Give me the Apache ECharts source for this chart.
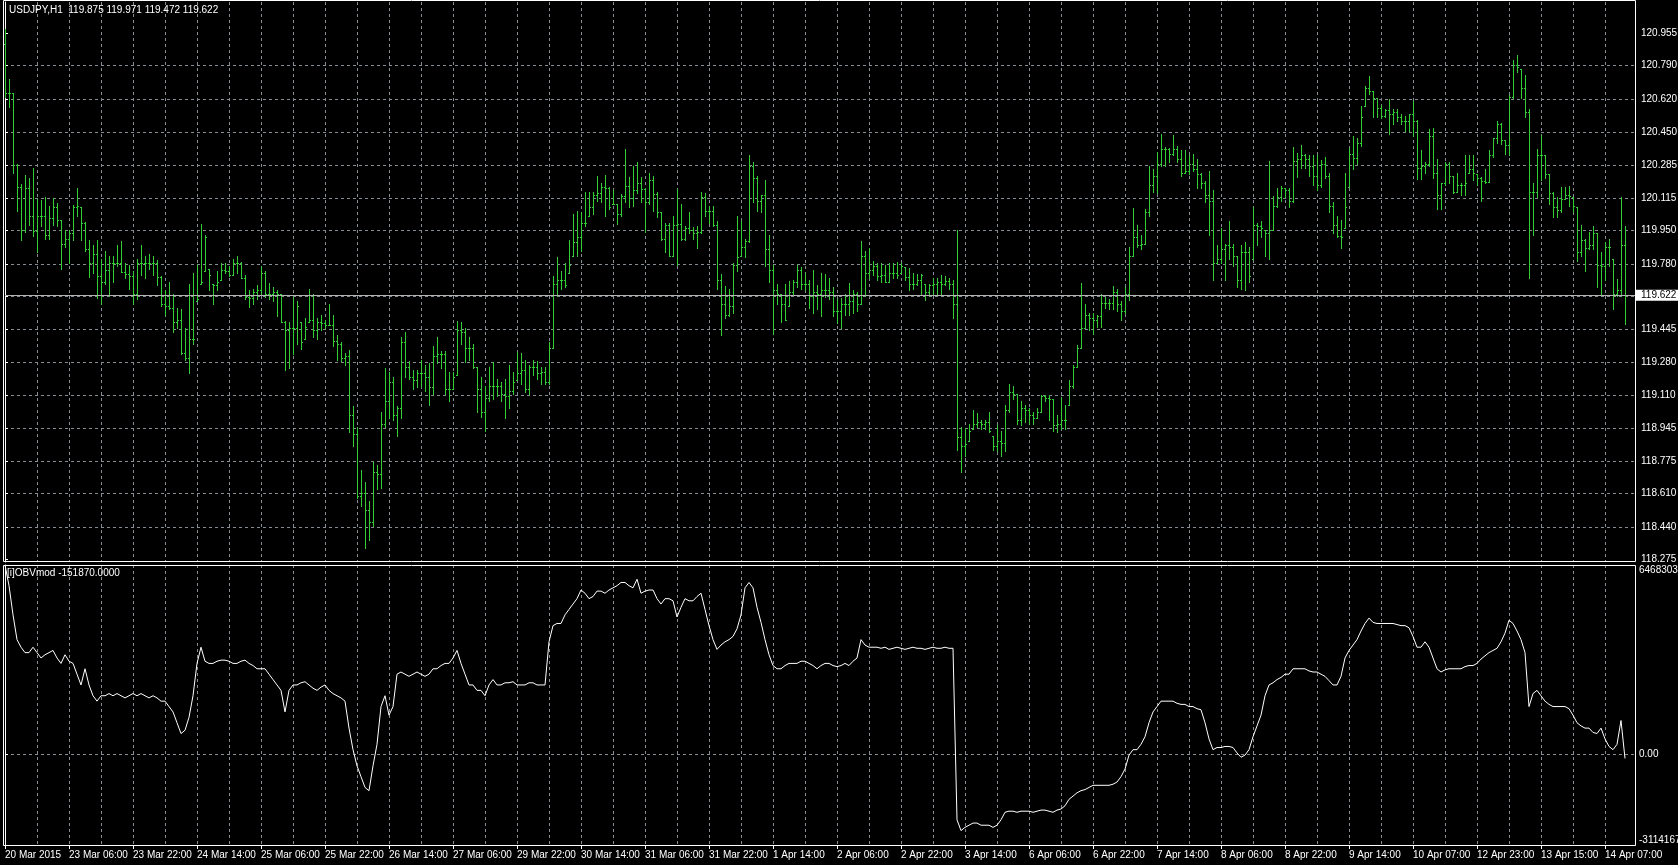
<!DOCTYPE html>
<html><head><meta charset="utf-8">
<script src="https://cdn.jsdelivr.net/npm/echarts@6/dist/echarts.min.js"></script>
<style>html,body{margin:0;padding:0;background:#000;overflow:hidden}#chart{width:1678px;height:865px}</style>
</head><body><div id="chart"></div>
<script>
const symbolTitle = 'USDJPY,H1  119.875 119.971 119.472 119.622';
const indicatorTitle = '[i]OBVmod -151870.0000';
const lastPrice = 119.622;
const timeLabels = ['20 Mar 2015','23 Mar 06:00','23 Mar 22:00','24 Mar 14:00','25 Mar 06:00','25 Mar 22:00','26 Mar 14:00','27 Mar 06:00','29 Mar 22:00','30 Mar 14:00','31 Mar 06:00','31 Mar 22:00','1 Apr 14:00','2 Apr 06:00','2 Apr 22:00','3 Apr 14:00','6 Apr 06:00','6 Apr 22:00','7 Apr 14:00','8 Apr 06:00','8 Apr 22:00','9 Apr 14:00','10 Apr 07:00','12 Apr 23:00','13 Apr 15:00','14 Apr 07:00'];
const priceTicks = [118.275,118.440,118.610,118.775,118.945,119.110,119.280,119.445,119.615,119.780,119.950,120.115,120.285,120.450,120.620,120.790,120.955];
const obvTicks = [-3114167, 0, 6468303.9];
const obvTickLabels = ['-3114167', '0.00', '6468303.9'];

const openP = [120.900,120.650,120.650,120.286,120.174,119.954,120.169,120.024,119.950,120.024,
120.024,119.927,120.015,120.068,120.006,119.883,119.909,119.936,120.068,120.077,
119.989,119.857,119.783,119.830,119.716,119.689,119.751,119.786,119.786,119.783,
119.737,119.730,119.716,119.627,119.783,119.783,119.786,119.786,119.783,119.712,
119.574,119.565,119.557,119.486,119.495,119.328,119.301,119.398,119.398,119.601,
119.689,119.918,119.724,119.671,119.689,119.751,119.742,119.724,119.786,119.786,
119.707,119.613,119.606,119.636,119.645,119.733,119.627,119.627,119.636,119.627,
119.486,119.442,119.451,119.451,119.565,119.381,119.460,119.495,119.442,119.486,
119.477,119.469,119.469,119.389,119.372,119.301,119.310,119.010,118.913,118.596,
118.614,118.526,118.464,118.719,118.711,118.966,119.081,119.178,119.010,119.045,
119.381,119.257,119.204,119.187,119.222,119.222,119.204,119.151,119.310,119.319,
119.319,119.143,119.143,119.204,119.442,119.433,119.354,119.354,119.254,119.143,
119.027,119.098,119.160,119.160,119.160,119.116,119.107,119.134,119.178,119.222,
119.240,119.143,119.257,119.257,119.222,119.231,119.178,119.354,119.680,119.698,
119.698,119.671,119.777,119.892,119.918,119.989,119.989,120.068,120.130,120.139,
120.174,120.165,120.068,120.086,120.033,120.125,120.179,120.118,120.156,120.192,
120.162,120.095,120.209,120.135,120.042,119.909,119.980,119.821,119.980,119.984,
119.909,119.962,119.954,119.936,119.941,120.121,120.051,120.051,119.980,119.698,
119.574,119.521,119.565,119.777,119.813,119.865,119.895,120.280,120.218,120.103,
120.130,119.857,119.751,119.645,119.627,119.574,119.495,119.636,119.689,119.751,
119.680,119.677,119.618,119.636,119.627,119.645,119.645,119.636,119.539,119.539,
119.574,119.574,119.592,119.627,119.574,119.821,119.733,119.747,119.768,119.716,
119.724,119.689,119.733,119.733,119.724,119.768,119.712,119.680,119.680,119.698,
119.724,119.636,119.671,119.680,119.689,119.680,119.694,119.680,119.574,118.896,
118.851,118.860,118.931,118.966,118.975,118.966,118.975,118.931,118.851,118.878,
118.869,119.037,119.125,119.116,118.984,119.045,119.037,119.010,118.993,119.027,
119.107,119.098,119.090,118.957,118.966,118.984,118.984,119.160,119.257,119.354,
119.451,119.521,119.504,119.495,119.513,119.583,119.583,119.583,119.636,119.574,
119.539,119.627,119.821,119.918,119.874,119.883,120.042,120.183,120.227,120.289,
120.368,120.368,120.342,120.368,120.315,120.245,120.253,120.289,120.262,120.236,
120.192,120.130,120.103,119.786,119.804,119.857,119.874,119.865,119.821,119.698,
119.839,119.839,119.716,119.980,119.971,119.962,119.936,119.954,120.077,120.121,
120.165,120.156,120.103,120.306,120.315,120.333,120.315,120.280,120.227,120.183,
120.289,120.227,120.077,119.980,119.924,119.918,120.068,120.342,120.319,120.394,
120.527,120.677,120.659,120.624,120.576,120.536,120.562,120.544,120.553,120.527,
120.509,120.509,120.544,120.509,120.271,120.280,120.289,120.430,120.245,120.130,
120.192,120.289,120.227,120.148,120.183,120.183,120.192,120.262,120.245,120.218,
120.201,120.195,120.333,120.421,120.495,120.412,120.386,120.632,120.791,120.782,
120.677,120.553,120.148,120.148,120.333,120.336,120.236,120.139,120.072,120.054,
120.112,120.130,120.125,120.077,119.839,119.901,119.860,119.874,119.936,119.777,
119.768,119.865,119.865,119.627,119.645,119.875];

const highP = [120.975,120.724,120.650,120.289,120.187,120.231,120.218,120.268,120.112,120.107,
120.121,120.077,120.118,120.091,120.006,119.955,119.955,120.079,120.165,120.072,
119.993,119.901,119.874,119.904,119.804,119.844,119.818,119.821,119.874,119.895,
119.783,119.772,119.742,119.804,119.874,119.821,119.830,119.821,119.799,119.716,
119.645,119.689,119.627,119.557,119.552,119.451,119.680,119.733,119.777,119.984,
119.927,119.756,119.680,119.742,119.783,119.786,119.768,119.804,119.821,119.790,
119.724,119.645,119.654,119.671,119.768,119.742,119.684,119.663,119.645,119.627,
119.490,119.486,119.613,119.592,119.486,119.504,119.654,119.627,119.504,119.521,
119.495,119.574,119.521,119.416,119.381,119.328,119.340,119.054,118.949,118.728,
118.667,118.570,118.772,118.755,119.027,119.248,119.231,119.204,119.054,119.407,
119.433,119.284,119.240,119.240,119.292,119.266,119.275,119.363,119.407,119.336,
119.336,119.231,119.231,119.490,119.486,119.454,119.407,119.372,119.254,119.204,
119.160,119.254,119.278,119.195,119.178,119.195,119.266,119.231,119.331,119.328,
119.292,119.266,119.292,119.284,119.257,119.254,119.381,119.716,119.813,119.742,
119.786,119.901,120.033,120.050,120.042,120.148,120.148,120.148,120.227,120.192,
120.231,120.174,120.156,120.086,120.135,120.364,120.223,120.280,120.297,120.223,
120.165,120.245,120.227,120.148,120.042,119.989,119.989,120.024,120.160,120.086,
119.971,120.042,119.966,119.971,120.148,120.142,120.077,120.077,119.998,119.730,
119.666,119.654,119.783,120.024,119.998,119.909,120.333,120.297,120.227,120.130,
120.209,119.927,119.777,119.680,119.627,119.680,119.694,119.698,119.772,119.765,
119.733,119.698,119.751,119.671,119.733,119.730,119.707,119.663,119.601,119.606,
119.627,119.684,119.645,119.636,119.895,119.848,119.860,119.795,119.783,119.783,
119.777,119.783,119.786,119.790,119.786,119.765,119.760,119.733,119.730,119.730,
119.680,119.680,119.707,119.707,119.724,119.719,119.707,119.698,119.954,118.949,
118.943,118.966,119.037,119.019,118.984,118.984,119.027,118.905,118.957,118.931,
119.063,119.169,119.160,119.116,119.081,119.063,119.045,119.027,119.045,119.113,
119.113,119.113,119.090,119.010,119.102,119.063,119.190,119.266,119.366,119.684,
119.574,119.530,119.530,119.521,119.627,119.613,119.601,119.666,119.654,119.592,
119.663,119.865,120.065,119.980,119.927,120.059,120.280,120.262,120.350,120.442,
120.377,120.372,120.435,120.382,120.359,120.359,120.336,120.342,120.315,120.245,
120.201,120.253,120.156,119.874,119.962,119.883,119.998,119.883,119.821,119.874,
119.892,119.865,120.072,119.989,120.001,119.954,120.306,120.125,120.165,120.178,
120.165,120.165,120.377,120.347,120.386,120.342,120.333,120.333,120.333,120.312,
120.327,120.245,120.095,120.024,120.006,120.245,120.372,120.430,120.424,120.583,
120.685,120.735,120.659,120.624,120.588,120.571,120.618,120.571,120.571,120.544,
120.535,120.544,120.611,120.513,120.359,120.297,120.465,120.470,120.315,120.192,
120.297,120.297,120.227,120.245,120.192,120.333,120.333,120.333,120.236,120.223,
120.262,120.359,120.424,120.509,120.500,120.412,120.641,120.818,120.844,120.774,
120.742,120.571,120.192,120.368,120.438,120.333,120.236,120.148,120.121,120.174,
120.171,120.178,120.121,120.072,119.980,119.909,119.945,119.971,119.936,119.839,
119.892,119.909,119.804,119.702,120.121,119.971];

const lowP = [120.632,120.579,120.245,120.050,119.901,119.945,119.980,119.924,119.839,119.971,
119.909,119.909,119.980,119.971,119.756,119.865,119.783,119.901,120.024,119.901,
119.848,119.712,119.733,119.606,119.578,119.680,119.618,119.689,119.768,119.737,
119.707,119.654,119.574,119.601,119.724,119.707,119.754,119.724,119.671,119.565,
119.518,119.548,119.433,119.451,119.319,119.292,119.222,119.372,119.592,119.680,
119.742,119.645,119.574,119.645,119.698,119.733,119.716,119.724,119.733,119.707,
119.601,119.560,119.574,119.601,119.627,119.610,119.601,119.592,119.513,119.486,
119.240,119.248,119.319,119.372,119.345,119.398,119.486,119.407,119.398,119.442,
119.451,119.469,119.363,119.292,119.284,119.266,118.922,118.851,118.587,118.544,
118.331,118.375,118.446,118.631,118.640,118.949,118.993,118.984,118.905,118.993,
119.204,119.195,119.143,119.152,119.160,119.134,119.063,119.116,119.275,119.248,
119.116,119.081,119.143,119.213,119.372,119.278,119.292,119.248,119.027,119.001,
118.931,119.081,119.090,119.107,119.081,118.993,119.045,119.116,119.187,119.169,
119.125,119.116,119.213,119.195,119.169,119.169,119.169,119.354,119.618,119.654,
119.663,119.733,119.821,119.821,119.848,119.971,120.024,120.033,120.103,120.095,
120.024,120.059,120.086,119.984,120.024,120.095,120.072,120.077,120.139,120.095,
119.945,120.086,120.050,120.019,119.901,119.839,119.821,119.821,119.777,119.901,
119.901,119.936,119.909,119.860,119.936,120.024,119.989,119.971,119.654,119.419,
119.504,119.513,119.530,119.742,119.818,119.813,119.892,120.095,120.050,120.042,
119.768,119.689,119.425,119.574,119.486,119.495,119.565,119.627,119.663,119.654,
119.645,119.557,119.530,119.548,119.513,119.610,119.601,119.513,119.477,119.451,
119.521,119.521,119.530,119.539,119.574,119.618,119.707,119.724,119.698,119.689,
119.689,119.689,119.707,119.707,119.733,119.698,119.645,119.654,119.671,119.627,
119.596,119.618,119.627,119.627,119.627,119.671,119.654,119.504,118.834,118.719,
118.799,118.878,118.940,118.949,118.940,118.940,118.922,118.834,118.825,118.799,
118.825,119.027,119.090,118.966,118.957,118.975,118.966,118.966,118.993,119.027,
119.084,118.984,118.931,118.922,118.940,118.940,119.063,119.148,119.257,119.354,
119.451,119.442,119.425,119.460,119.460,119.557,119.548,119.548,119.539,119.495,
119.530,119.596,119.821,119.865,119.857,119.883,120.024,120.148,120.139,120.280,
120.280,120.297,120.333,120.297,120.227,120.245,120.236,120.253,120.165,120.165,
120.095,119.927,119.698,119.786,119.786,119.698,119.804,119.768,119.663,119.654,
119.645,119.689,119.804,119.874,119.918,119.821,119.807,119.954,120.072,120.103,
120.121,120.072,120.095,120.223,120.271,120.271,120.227,120.183,120.156,120.174,
120.218,120.047,119.936,119.918,119.860,119.962,120.174,120.266,120.289,120.382,
120.583,120.647,120.530,120.530,120.523,120.527,120.442,120.491,120.509,120.491,
120.456,120.456,120.430,120.213,120.213,120.245,120.280,120.218,120.059,120.059,
120.183,120.192,120.139,120.148,120.130,120.130,120.245,120.209,120.183,120.103,
120.192,120.195,120.324,120.394,120.389,120.342,120.333,120.624,120.756,120.624,
120.527,119.707,119.927,120.121,120.209,120.218,120.086,120.019,120.019,120.047,
120.112,120.077,120.042,119.795,119.821,119.742,119.857,119.857,119.663,119.627,
119.698,119.768,119.548,119.618,119.618,119.472];

const closeP = [120.650,120.650,120.286,120.174,119.954,120.169,120.024,119.950,120.024,120.024,
119.927,120.015,120.068,120.006,119.883,119.909,119.936,120.068,120.077,119.989,
119.857,119.783,119.830,119.716,119.689,119.751,119.786,119.786,119.783,119.737,
119.730,119.716,119.627,119.783,119.783,119.786,119.786,119.783,119.712,119.574,
119.565,119.557,119.486,119.495,119.328,119.301,119.398,119.398,119.601,119.689,
119.918,119.724,119.671,119.689,119.751,119.742,119.724,119.786,119.786,119.707,
119.613,119.606,119.636,119.645,119.733,119.627,119.627,119.636,119.627,119.486,
119.442,119.451,119.451,119.565,119.381,119.460,119.495,119.442,119.486,119.477,
119.469,119.469,119.389,119.372,119.301,119.310,119.010,118.913,118.596,118.614,
118.526,118.464,118.719,118.711,118.966,119.081,119.178,119.010,119.045,119.381,
119.257,119.204,119.187,119.222,119.222,119.204,119.151,119.310,119.319,119.319,
119.143,119.143,119.204,119.442,119.433,119.354,119.354,119.254,119.143,119.027,
119.098,119.160,119.160,119.160,119.116,119.107,119.134,119.178,119.222,119.240,
119.143,119.257,119.257,119.222,119.231,119.178,119.354,119.680,119.698,119.698,
119.671,119.777,119.892,119.918,119.989,119.989,120.068,120.130,120.139,120.174,
120.165,120.068,120.086,120.033,120.125,120.179,120.118,120.156,120.192,120.162,
120.095,120.209,120.135,120.042,119.909,119.980,119.821,119.980,119.984,119.909,
119.962,119.954,119.936,119.941,120.121,120.051,120.051,119.980,119.698,119.574,
119.521,119.565,119.777,119.813,119.865,119.895,120.280,120.218,120.103,120.130,
119.857,119.751,119.645,119.627,119.574,119.495,119.636,119.689,119.751,119.680,
119.677,119.618,119.636,119.627,119.645,119.645,119.636,119.539,119.539,119.574,
119.574,119.592,119.627,119.574,119.821,119.733,119.747,119.768,119.716,119.724,
119.689,119.733,119.733,119.724,119.768,119.712,119.680,119.680,119.698,119.724,
119.636,119.671,119.680,119.689,119.680,119.694,119.680,119.574,118.896,118.851,
118.860,118.931,118.966,118.975,118.966,118.975,118.931,118.851,118.878,118.869,
119.037,119.125,119.116,118.984,119.045,119.037,119.010,118.993,119.027,119.107,
119.098,119.090,118.957,118.966,118.984,118.984,119.160,119.257,119.354,119.451,
119.521,119.504,119.495,119.513,119.583,119.583,119.583,119.636,119.574,119.539,
119.627,119.821,119.918,119.874,119.883,120.042,120.183,120.227,120.289,120.368,
120.368,120.342,120.368,120.315,120.245,120.253,120.289,120.262,120.236,120.192,
120.130,120.103,119.786,119.804,119.857,119.874,119.865,119.821,119.698,119.839,
119.839,119.716,119.980,119.971,119.962,119.936,119.954,120.077,120.121,120.165,
120.156,120.103,120.306,120.315,120.333,120.315,120.280,120.227,120.183,120.289,
120.227,120.077,119.980,119.924,119.918,120.068,120.342,120.319,120.394,120.527,
120.677,120.659,120.624,120.576,120.536,120.562,120.544,120.553,120.527,120.509,
120.509,120.544,120.509,120.271,120.280,120.289,120.430,120.245,120.130,120.192,
120.289,120.227,120.148,120.183,120.183,120.192,120.262,120.245,120.218,120.201,
120.195,120.333,120.421,120.495,120.412,120.386,120.632,120.791,120.782,120.677,
120.553,120.148,120.148,120.333,120.336,120.236,120.139,120.072,120.054,120.112,
120.130,120.125,120.077,119.839,119.901,119.860,119.874,119.936,119.777,119.768,
119.865,119.865,119.627,119.645,119.875,119.622];

const obvValues = [6468304,5760000,4763000,3914000,3655000,3470000,3470000,3655000,3470000,3286000,
3397000,3470000,3544000,3286000,3101000,3397000,3175000,3101000,2732000,2363000,
2917000,2363000,1994000,1809000,1994000,1994000,2068000,1994000,2068000,1994000,
1920000,1994000,2068000,1994000,2068000,1994000,1920000,1994000,1920000,1809000,
1809000,1624000,1440000,1071000,701000,812000,1255000,1994000,3101000,3655000,
3175000,3101000,3101000,3175000,3212000,3212000,3175000,3101000,3101000,3175000,
3212000,3101000,3027000,2917000,2917000,2917000,2732000,2547000,2363000,2178000,
1440000,2178000,2363000,2363000,2437000,2474000,2363000,2252000,2178000,2289000,
2363000,2178000,2068000,1994000,1920000,1809000,886000,148000,-406000,-775000,
-1145000,-1255000,-406000,332000,1624000,1994000,1329000,1624000,2732000,2806000,
2732000,2658000,2732000,2806000,2732000,2658000,2732000,2917000,2917000,3027000,
3101000,3101000,3286000,3544000,3101000,2732000,2363000,2363000,2178000,2178000,
1994000,2363000,2547000,2363000,2363000,2437000,2437000,2474000,2363000,2363000,
2363000,2437000,2437000,2363000,2363000,2363000,3840000,4393000,4467000,4467000,
4763000,4947000,5132000,5316000,5612000,5501000,5316000,5390000,5575000,5575000,
5501000,5612000,5686000,5760000,5870000,5870000,5760000,5686000,5981000,5501000,
5575000,5612000,5612000,5316000,5132000,5316000,5316000,5243000,4689000,5021000,
5316000,5243000,5243000,5390000,5501000,4947000,4393000,3914000,3581000,3729000,
3840000,3914000,4024000,4283000,4763000,5686000,5870000,5686000,5021000,4504000,
3914000,3397000,3027000,2917000,2917000,3027000,3101000,3101000,3101000,3175000,
3175000,3101000,3027000,2917000,3027000,3101000,3101000,3027000,2991000,3027000,
3101000,3027000,3175000,3286000,3914000,3729000,3655000,3655000,3655000,3618000,
3655000,3581000,3618000,3655000,3618000,3581000,3618000,3655000,3618000,3618000,
3581000,3618000,3655000,3618000,3618000,3655000,3618000,3618000,-2252000,-2621000,
-2511000,-2437000,-2363000,-2363000,-2437000,-2437000,-2437000,-2511000,-2437000,-2252000,
-1994000,-1957000,-1957000,-1994000,-1957000,-1957000,-1957000,-1994000,-1957000,-1920000,
-1920000,-1957000,-1994000,-1920000,-1883000,-1772000,-1551000,-1440000,-1329000,-1255000,
-1218000,-1145000,-1071000,-1071000,-1071000,-1071000,-1071000,-1034000,-960000,-775000,
-517000,-37000,148000,148000,332000,591000,1071000,1440000,1624000,1809000,
1809000,1809000,1809000,1735000,1698000,1698000,1624000,1624000,1551000,1514000,
1071000,517000,148000,222000,222000,258000,258000,222000,37000,-111000,
-37000,148000,591000,960000,1329000,1994000,2363000,2437000,2547000,2621000,
2732000,2732000,2917000,2917000,2917000,2917000,2843000,2806000,2806000,2732000,
2658000,2511000,2363000,2363000,2658000,3286000,3544000,3729000,3914000,4209000,
4467000,4652000,4504000,4467000,4467000,4467000,4467000,4467000,4430000,4393000,
4393000,4320000,4024000,3655000,3655000,3840000,3655000,3286000,2917000,2806000,
2880000,2917000,2917000,2917000,2917000,2991000,3027000,3027000,3101000,3249000,
3360000,3470000,3544000,3618000,3840000,4135000,4578000,4467000,4209000,3914000,
3470000,1624000,2068000,2178000,1994000,1809000,1698000,1624000,1624000,1624000,
1624000,1551000,1329000,1071000,960000,886000,886000,738000,701000,886000,
517000,258000,148000,332000,1145000,-151870];

const FONT = '"Liberation Sans", Arial, sans-serif';
const BAR_COLOR = '#32CD32';
const GRID_COLOR = '#858c94';
const AXIS_COLOR = '#ffffff';

const barData = closeP.map((c, i) => [i, openP[i], c, lowP[i], highP[i]]);
const obvData = obvValues.map((v, i) => [i, v]);
const timeTickPos = timeLabels.map((_, k) => k * 16);

const chart = echarts.init(document.getElementById('chart'), null, {renderer: 'canvas'});

const dashed = {show: true, lineStyle: {color: GRID_COLOR, type: [3, 3], width: 1}, showMinLine: false, showMaxLine: false};

chart.setOption({
  backgroundColor: '#000000',
  animation: false,
  textStyle: {fontFamily: FONT},
  grid: [
    {left: 5, top: 2, width: 1630, height: 560, containLabel: false, outerBoundsMode: 'none'},
    {left: 5, top: 565, width: 1630, height: 280, containLabel: false, outerBoundsMode: 'none'}
  ],
  xAxis: [
    {gridIndex: 0, type: 'value', min: 0, max: 407.5, interval: 8,
     axisLine: {show: false}, axisTick: {show: false}, axisLabel: {show: false}, splitLine: dashed},
    {gridIndex: 1, type: 'value', min: 0, max: 407.5, interval: 8,
     axisLine: {show: false}, axisTick: {show: false}, axisLabel: {show: false}, splitLine: dashed},
    {gridIndex: 1, type: 'value', min: 0, max: 407.5, position: 'bottom',
     axisLine: {show: true, lineStyle: {color: AXIS_COLOR, width: 1}},
     axisTick: {show: true, customValues: timeTickPos, length: 4, lineStyle: {color: AXIS_COLOR}},
     axisLabel: {show: true, customValues: timeTickPos, color: '#ffffff', fontSize: 10, fontFamily: FONT, align: 'left', margin: 5,
       formatter: v => timeLabels[Math.round(v / 16)] || ''},
     splitLine: {show: false}}
  ],
  yAxis: [
    {gridIndex: 0, type: 'value', position: 'right', min: 118.2612, max: 121.1145, scale: true,
     axisLine: {show: true, lineStyle: {color: AXIS_COLOR, width: 1}},
     axisTick: {show: true, customValues: priceTicks, length: 3, inside: false, lineStyle: {color: AXIS_COLOR}},
     axisLabel: {show: true, customValues: priceTicks, color: '#ffffff', fontSize: 10, fontFamily: FONT, margin: 6,
       formatter: v => v.toFixed(3)},
     splitLine: Object.assign({customValues: priceTicks}, dashed)},
    {gridIndex: 1, type: 'value', position: 'right', min: obvTicks[0], max: obvTicks[2],
     axisLine: {show: true, lineStyle: {color: AXIS_COLOR, width: 1}},
     axisTick: {show: true, customValues: obvTicks, length: 3, lineStyle: {color: AXIS_COLOR}},
     axisLabel: {show: true, customValues: obvTicks, color: '#ffffff', fontSize: 10, fontFamily: FONT, margin: 4,
       verticalAlignMinLabel: 'bottom', verticalAlignMaxLabel: 'top',
       formatter: (v) => obvTickLabels[obvTicks.indexOf(v)] !== undefined ? obvTickLabels[obvTicks.indexOf(v)] : ''},
     splitLine: Object.assign({customValues: [0]}, dashed)}
  ],
  series: [
    {
      type: 'custom', name: 'USDJPY,H1', xAxisIndex: 0, yAxisIndex: 0, clip: false,
      data: barData,
      encode: {x: 0, y: [1, 2, 3, 4]},
      renderItem: function (params, api) {
        const i = api.value(0), o = api.value(1), c = api.value(2), l = api.value(3), h = api.value(4);
        const clampV = v => Math.min(h, Math.max(l, v));
        const pH = api.coord([i, h]);
        const pL = api.coord([i, l]);
        const x = Math.round(pH[0]);
        const yH = Math.round(pH[1]);
        const yL = Math.round(pL[1]);
        const yO = Math.round(api.coord([i, clampV(o)])[1]);
        const yC = Math.round(api.coord([i, clampV(c)])[1]);
        const st = {fill: BAR_COLOR};
        return {type: 'group', children: [
          {type: 'rect', shape: {x: x, y: yH, width: 1, height: Math.max(1, yL - yH + 1)}, style: st},
          {type: 'rect', shape: {x: x - 1, y: yO, width: 1, height: 1}, style: st},
          {type: 'rect', shape: {x: x + 1, y: yC, width: 1, height: 1}, style: st}
        ]};
      },
      markLine: {
        silent: true, symbol: 'none', animation: false,
        lineStyle: {color: '#b4b4b4', type: 'solid', width: 1},
        label: {show: true, position: 'end', distance: 1, formatter: lastPrice.toFixed(3),
          backgroundColor: '#ffffff', color: '#000000', fontSize: 10, fontFamily: FONT, padding: [1, 4, 0, 5]},
        data: [{yAxis: lastPrice}]
      }
    },
    {
      type: 'line', name: 'OBVmod', xAxisIndex: 1, yAxisIndex: 1,
      data: obvData, showSymbol: false, symbol: 'none',
      lineStyle: {color: '#ffffff', width: 1}, z: 3
    }
  ],
  graphic: [
    {type: 'rect', z: 50, silent: true, shape: {x: 3.5, y: 0.5, width: 1632, height: 561}, style: {fill: null, stroke: '#ffffff', lineWidth: 1}},
    {type: 'rect', z: 50, silent: true, shape: {x: 3.5, y: 565.5, width: 1632, height: 280}, style: {fill: null, stroke: '#ffffff', lineWidth: 1}},
    {type: 'text', z: 60, silent: true, x: 9, y: 10, style: {text: symbolTitle, fill: '#ffffff', font: '10px ' + FONT, verticalAlign: 'middle'}},
    {type: 'text', z: 60, silent: true, x: 7, y: 573, style: {text: indicatorTitle, fill: '#ffffff', font: '10px ' + FONT, verticalAlign: 'middle'}}
  ]
});
</script>
</body></html>
